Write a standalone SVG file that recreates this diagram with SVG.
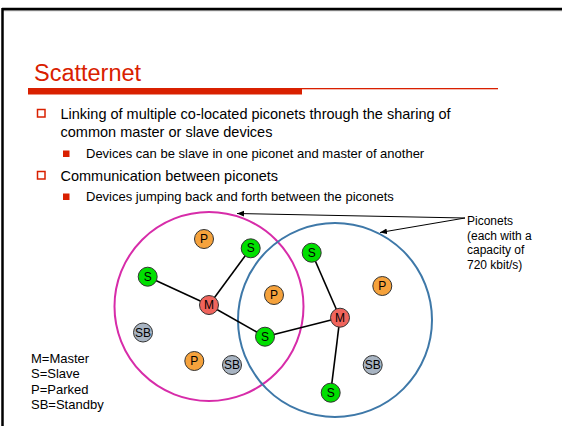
<svg xmlns="http://www.w3.org/2000/svg" width="562" height="426" viewBox="0 0 562 426">
<defs>
<style>
text{font-family:"Liberation Sans",Arial,sans-serif;fill:#000}
.b1{font-size:14.5px}
.b2{font-size:13px}
.lbl{font-size:12px}
.leg{font-size:13px}
.node circle{stroke:#333;stroke-width:1}
.S circle{fill:#00e000}
.M circle{fill:#f0645c}
.P circle{fill:#f5a23c}
.SB circle{fill:#a8b4c2}
.node text{font-size:12px;text-anchor:middle;dominant-baseline:central}
.edge{stroke:#000;stroke-width:1.6}
.ptr{stroke:#000;stroke-width:1;fill:none}
</style>
<marker id="ah" viewBox="0 0 10 10" refX="10" refY="5" markerWidth="7" markerHeight="7" orient="auto"><path d="M0,1 L10,5 L0,9 z" fill="#000"/></marker>
</defs>
<rect width="562" height="426" fill="#fff"/>
<g id="frame">
<line x1="2" y1="10.5" x2="562" y2="10.5" stroke="#aaa" stroke-width="1.5"/>
<line x1="2" y1="9" x2="562" y2="9" stroke="#000" stroke-width="2.5"/>
<line x1="2.5" y1="8" x2="2.5" y2="426" stroke="#000" stroke-width="2.5"/>
</g>
<g id="title">
<text x="34" y="81" style="font-size:23.5px;fill:#d92000">Scatternet</text>
<rect x="28" y="88" width="274" height="6.5" fill="#d92000"/>
<rect x="302" y="88" width="196" height="1.3" fill="#d92000"/>
</g>
<g id="bullets">
<rect x="37.5" y="109.5" width="7.5" height="7.5" fill="none" stroke="#d92000" stroke-width="1.5"/>
<text class="b1" x="60.5" y="119">Linking of multiple co-located piconets through the sharing of</text>
<text class="b1" x="60.5" y="136.5">common master or slave devices</text>
<rect x="63" y="150.5" width="6.5" height="6.5" fill="#d92000"/>
<text class="b2" x="86" y="158">Devices can be slave in one piconet and master of another</text>
<rect x="37.5" y="171.5" width="7.5" height="7.5" fill="none" stroke="#d92000" stroke-width="1.5"/>
<text class="b1" x="60.5" y="180.5">Communication between piconets</text>
<rect x="63" y="193.5" width="6.5" height="6.5" fill="#d92000"/>
<text class="b2" x="86" y="201">Devices jumping back and forth between the piconets</text>
</g>
<g id="piconet-pink"><circle cx="209" cy="306.5" r="94.5" fill="none" stroke="#d72ca9" stroke-width="2"/></g>
<g id="piconet-blue"><circle cx="335" cy="320" r="97" fill="none" stroke="#3e78a8" stroke-width="2"/></g>
<g id="connectors">
<line class="edge" x1="209" y1="305" x2="147.7" y2="276.7"/>
<line class="edge" x1="209" y1="305" x2="250.7" y2="248.3"/>
<line class="edge" x1="209" y1="305" x2="265" y2="336.7"/>
<line class="edge" x1="265" y1="336.7" x2="340" y2="317.7"/>
<line class="edge" x1="340" y1="317.7" x2="311.7" y2="252.7"/>
<line class="edge" x1="340" y1="317.7" x2="330.7" y2="392.7"/>
<line class="ptr" x1="465" y1="218" x2="237" y2="213.5" marker-end="url(#ah)"/>
<line class="ptr" x1="465" y1="218" x2="380" y2="232.5" marker-end="url(#ah)"/>
</g>
<g id="n-P1" class="node P"><circle cx="204" cy="239" r="9.5"/><text x="204" y="239">P</text></g>
<g id="n-S1" class="node S"><circle cx="250.7" cy="248.3" r="9.5"/><text x="250.7" y="248.3">S</text></g>
<g id="n-S2" class="node S"><circle cx="147.7" cy="276.7" r="9.5"/><text x="147.7" y="276.7">S</text></g>
<g id="n-M1" class="node M"><circle cx="209" cy="305" r="9.5"/><text x="209" y="305">M</text></g>
<g id="n-P2" class="node P"><circle cx="274" cy="295" r="9.5"/><text x="274" y="295">P</text></g>
<g id="n-SB1" class="node SB"><circle cx="143" cy="332.5" r="9.5"/><text x="143" y="332.5">SB</text></g>
<g id="n-S3" class="node S"><circle cx="265" cy="336.7" r="9.5"/><text x="265" y="336.7">S</text></g>
<g id="n-P3" class="node P"><circle cx="194.3" cy="361" r="9.5"/><text x="194.3" y="361">P</text></g>
<g id="n-SB2" class="node SB"><circle cx="232" cy="365" r="9.5"/><text x="232" y="365">SB</text></g>
<g id="n-S4" class="node S"><circle cx="311.7" cy="252.7" r="9.5"/><text x="311.7" y="252.7">S</text></g>
<g id="n-P4" class="node P"><circle cx="382.3" cy="286" r="9.5"/><text x="382.3" y="286">P</text></g>
<g id="n-M2" class="node M"><circle cx="340" cy="317.7" r="9.5"/><text x="340" y="317.7">M</text></g>
<g id="n-SB3" class="node SB"><circle cx="372.7" cy="365" r="9.5"/><text x="372.7" y="365">SB</text></g>
<g id="n-S5" class="node S"><circle cx="330.7" cy="392.7" r="9.5"/><text x="330.7" y="392.7">S</text></g>
<g id="piconets-label">
<text class="lbl" x="467" y="225">Piconets</text>
<text class="lbl" x="467" y="239.5">(each with a</text>
<text class="lbl" x="467" y="254">capacity of</text>
<text class="lbl" x="467" y="268.5">720 kbit/s)</text>
</g>
<g id="legend">
<text class="leg" x="31" y="363">M=Master</text>
<text class="leg" x="31" y="378">S=Slave</text>
<text class="leg" x="31" y="393.5">P=Parked</text>
<text class="leg" x="31" y="409">SB=Standby</text>
</g>
</svg>
